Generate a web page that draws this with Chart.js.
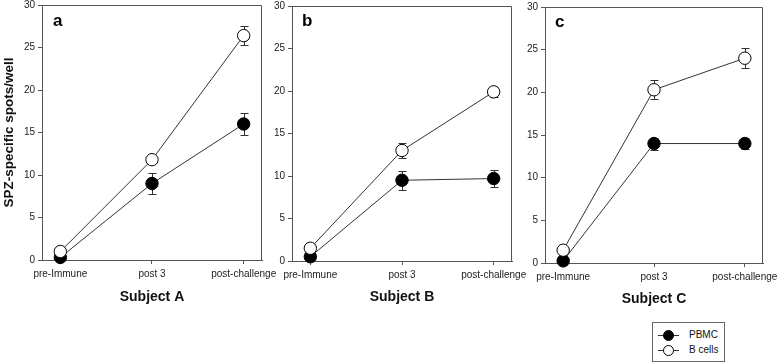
<!DOCTYPE html>
<html><head><meta charset="utf-8">
<script src="https://cdn.jsdelivr.net/npm/chart.js@4/dist/chart.umd.min.js"></script>
<style>
html,body{margin:0;padding:0;background:#fff;}
#wrap{position:relative;width:779px;height:363px;overflow:hidden;font-family:"Liberation Sans",Arial,sans-serif;}
canvas{position:absolute;left:0;top:-20px;}
.lab{position:absolute;font-weight:bold;font-size:17px;color:#000;line-height:1;}
#legend{position:absolute;left:652px;top:322px;width:71px;height:38px;border:1px solid #666;background:#fff;font-size:10px;color:#111;}
#legend .row{position:absolute;left:5px;height:12px;line-height:12px;white-space:nowrap;}
#legend svg{position:absolute;left:0;top:0;}
#legend span{position:absolute;left:31px;top:0;}
</style></head>
<body>
<div id="wrap">
  <canvas id="c0" width="820" height="383"></canvas>
  <canvas id="c1" width="820" height="383"></canvas>
  <canvas id="c2" width="820" height="383"></canvas>
  <div class="lab" id="l0"></div>
  <div class="lab" id="l1"></div>
  <div class="lab" id="l2"></div>
  <div id="legend"></div>
</div>
<script>
// ---- data ----
const categories = ['pre-Immune', 'post 3', 'post-challenge'];
const yTicks = [0, 5, 10, 15, 20, 25, 30];
const subjects = ['Subject A', 'Subject B', 'Subject C'];
const panelLetters = ['a', 'b', 'c'];
const seriesNames = ['PBMC', 'B cells'];
const yTitle = 'SPZ-specific spots/well';

const pbmcA = [0.3, 9.0, 16.0];
const pbmcAErr = [0, 1.2, 1.3];
const bcellsA = [1.0, 11.8, 26.4];
const bcellsAErr = [0, 0.4, 1.1];

const pbmcB = [0.5, 9.5, 9.7];
const pbmcBErr = [0, 1.1, 1.0];
const bcellsB = [1.5, 13.0, 19.9];
const bcellsBErr = [0, 0.9, 0.6];

const pbmcC = [0.25, 14.0, 14.0];
const pbmcCErr = [0, 0.7, 0.6];
const bcellsC = [1.5, 20.3, 24.0];
const bcellsCErr = [0, 1.1, 1.2];

// ---- layout ----
const FONT = '"Liberation Sans", Arial, sans-serif';
const OFF = 20, CW = 820, CH = 383;
const panels = [
  {L:42, R:262, T:5, B:260, titleY:297, showY:true, letterX:53, letterY:12, pbmc:pbmcA, pe:pbmcAErr, bc:bcellsA, be:bcellsAErr},
  {L:292, R:512, T:6, B:261, titleY:297, showY:false, letterX:302, letterY:12, pbmc:pbmcB, pe:pbmcBErr, bc:bcellsB, be:bcellsBErr},
  {L:545, R:763, T:7, B:263, titleY:299, showY:false, letterX:555, letterY:13, pbmc:pbmcC, pe:pbmcCErr, bc:bcellsC, be:bcellsCErr}
];

const errorBars = {
  id:'errorBars',
  beforeDatasetsDraw(chart){
    const ctx = chart.ctx, xs = chart.scales.x, ys = chart.scales.y;
    chart.data.datasets.forEach(ds => {
      (ds.errors || []).forEach((e, i) => {
        if (!e) return;
        const p = ds.data[i];
        const x = Math.round(xs.getPixelForValue(p.x)) + 0.5;
        const y1 = Math.round(ys.getPixelForValue(p.y + e)) + 0.5;
        const y2 = Math.round(ys.getPixelForValue(p.y - e)) + 0.5;
        ctx.save();
        ctx.strokeStyle = '#333'; ctx.lineWidth = 1;
        ctx.beginPath();
        ctx.moveTo(x, y1); ctx.lineTo(x, y2);
        ctx.moveTo(x - 4, y1); ctx.lineTo(x + 4, y1);
        ctx.moveTo(x - 4, y2); ctx.lineTo(x + 4, y2);
        ctx.stroke();
        ctx.restore();
      });
    });
  }
};

const frame = {
  id:'frame',
  afterDraw(chart){
    const {ctx, chartArea:a} = chart;
    const l = Math.round(a.left) + 0.5, r = Math.round(a.right) - 0.5, t = Math.round(a.top) + 0.5, b = Math.round(a.bottom);
    ctx.save();
    ctx.strokeStyle = '#555'; ctx.lineWidth = 1;
    ctx.beginPath();
    ctx.moveTo(l, t); ctx.lineTo(r, t); ctx.lineTo(r, b);
    ctx.stroke();
    ctx.restore();
  }
};

panels.forEach((p, k) => {
  const mk = (arr) => arr.map((v, i) => ({x:i, y:v}));
  new Chart(document.getElementById('c' + k), {
    type:'scatter',
    data:{
      datasets:[
        {label:seriesNames[0], data:mk(p.pbmc), errors:p.pe, showLine:true,
         borderColor:'#333', borderWidth:1, pointRadius:6.2, pointBackgroundColor:'#000',
         pointBorderColor:'#000', pointBorderWidth:1, clip:false, order:2},
        {label:seriesNames[1], data:mk(p.bc), errors:p.be, showLine:true,
         borderColor:'#333', borderWidth:1, pointRadius:6.2, pointBackgroundColor:'#fff',
         pointBorderColor:'#000', pointBorderWidth:1, clip:false, order:1}
      ]
    },
    options:{
      responsive:false, animation:false, devicePixelRatio:1,
      layout:{padding:{left:0, top:p.T + OFF, right:CW - p.R, bottom:0}},
      plugins:{legend:{display:false}, tooltip:{enabled:false}},
      scales:{
        x:{type:'linear', min:-0.2, max:2.2,
           afterBuildTicks:s => { s.ticks = categories.map((c, i) => ({value:i})); },
           afterFit:s => { s.height = CH - (p.B + OFF); },
           ticks:{callback:v => categories[v], font:{size:10, family:FONT}, color:'#222', padding:4, maxRotation:0, autoSkip:false},
           grid:{drawOnChartArea:false, drawTicks:true, tickLength:4, color:'#555'},
           border:{display:true, color:'#555'},
           title:{display:true, text:subjects[k], font:{size:14, weight:'bold', family:FONT}, color:'#111',
                  padding:{top:0, bottom:CH - (p.titleY + OFF) - 8.4}}
        },
        y:{type:'linear', min:0, max:30,
           afterBuildTicks:s => { s.ticks = yTicks.map(v => ({value:v})); },
           afterFit:s => { s.width = p.L; },
           ticks:{font:{size:10, family:FONT}, color:'#222', padding:3},
           grid:{drawOnChartArea:false, drawTicks:true, tickLength:4, color:'#555'},
           border:{display:true, color:'#555'},
           title:{display:p.showY, text:yTitle, font:{size:13.5, weight:'bold', family:FONT}, color:'#111', padding:{top:1, bottom:0}}
        }
      }
    },
    plugins:[errorBars, frame]
  });
  const lab = document.getElementById('l' + k);
  lab.textContent = panelLetters[k];
  lab.style.left = p.letterX + 'px';
  lab.style.top = p.letterY + 'px';
});

// legend
const leg = document.getElementById('legend');
const fills = ['#000', '#fff'];
seriesNames.forEach((n, i) => {
  const row = document.createElement('div');
  row.className = 'row';
  row.style.top = (6 + i * 15) + 'px';
  row.innerHTML = '<svg width="22" height="12"><line x1="0" y1="6.5" x2="21" y2="6.5" stroke="#333" stroke-width="1"/>' +
    '<circle cx="10.5" cy="6.5" r="5" fill="' + fills[i] + '" stroke="#000" stroke-width="1"/></svg>';
  const s = document.createElement('span');
  s.textContent = n;
  row.appendChild(s);
  leg.appendChild(row);
});
</script>
</body></html>
